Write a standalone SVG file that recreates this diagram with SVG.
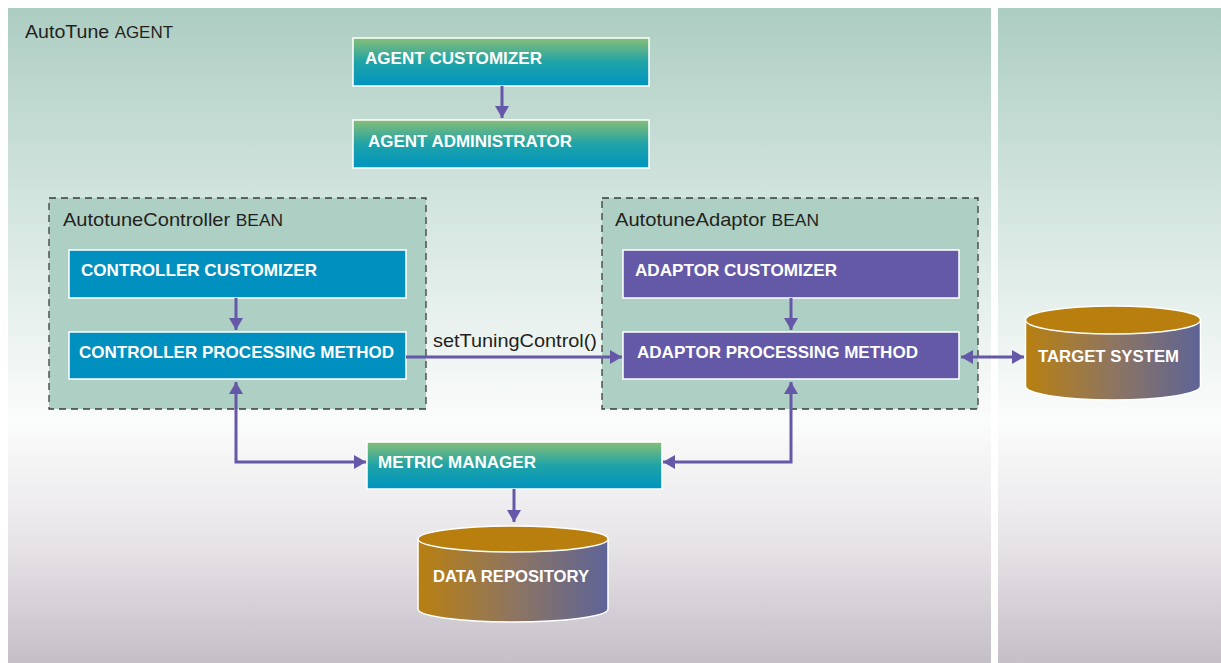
<svg xmlns="http://www.w3.org/2000/svg" width="1221" height="663" viewBox="0 0 1221 663">
  <defs>
    <linearGradient id="bg" gradientUnits="userSpaceOnUse" x1="0" y1="8" x2="0" y2="663">
      <stop offset="0" stop-color="#adcdc2"/>
      <stop offset="0.3" stop-color="#d3e5df"/>
      <stop offset="0.63" stop-color="#fbfcfc"/>
      <stop offset="0.8" stop-color="#eae7ea"/>
      <stop offset="1" stop-color="#c5bfc8"/>
    </linearGradient>
    <linearGradient id="greenBox" x1="0" y1="0" x2="0" y2="1">
      <stop offset="0" stop-color="#87be76"/>
      <stop offset="0.5" stop-color="#1fa3a7"/>
      <stop offset="1" stop-color="#0094c1"/>
    </linearGradient>
    <linearGradient id="cyl" x1="0" y1="0" x2="1" y2="0">
      <stop offset="0" stop-color="#b98010"/>
      <stop offset="0.5" stop-color="#8e7560"/>
      <stop offset="1" stop-color="#5d6497"/>
    </linearGradient>
    <marker id="ah" markerUnits="userSpaceOnUse" markerWidth="13" markerHeight="14" refX="12" refY="7" orient="auto-start-reverse">
      <path d="M0,0 L12,7 L0,14 z" fill="#6558a8"/>
    </marker>
    <style>
      .panel { fill: url(#bg); }
      .bean { fill: #aecfc4; stroke: #3d3d3d; stroke-width: 1.3; stroke-dasharray: 7 5; }
      .gbox { fill: url(#greenBox); stroke: #ffffff; stroke-width: 1.5; }
      .bbox { fill: #0090bf; stroke: #ffffff; stroke-width: 1.5; }
      .pbox { fill: #6459a7; stroke: #ffffff; stroke-width: 1.5; }
      .cylbody { fill: url(#cyl); stroke: #ffffff; stroke-width: 1.5; }
      .cyltop { fill: #b87f0e; stroke: #ffffff; stroke-width: 1.5; }
      .btxt { font-family: "Liberation Sans", Arial, sans-serif; font-size: 16.5px; font-weight: bold; fill: #ffffff; }
      .lbl { font-family: "Liberation Sans", Arial, sans-serif; font-size: 18.5px; fill: #231f20; }
      .sm { font-size: 16px; }
      .conn { fill: none; stroke: #6558a8; stroke-width: 3; }
    </style>
  </defs>

  <rect x="0" y="0" width="1221" height="663" fill="#ffffff"/>
  <rect class="panel" x="8" y="8" width="983" height="655"/>
  <rect class="panel" x="998" y="8" width="223" height="655"/>

  <text class="lbl" x="25" y="38" textLength="148" lengthAdjust="spacingAndGlyphs">AutoTune <tspan class="sm">AGENT</tspan></text>

  <g id="controller-bean">
    <rect class="bean" x="49" y="198" width="377" height="211"/>
    <text class="lbl" x="63" y="226" textLength="220" lengthAdjust="spacingAndGlyphs">AutotuneController <tspan class="sm">BEAN</tspan></text>
  </g>
  <g id="adaptor-bean">
    <rect class="bean" x="602" y="198" width="376" height="211"/>
    <text class="lbl" x="615" y="226" textLength="204" lengthAdjust="spacingAndGlyphs">AutotuneAdaptor <tspan class="sm">BEAN</tspan></text>
  </g>

  <g id="agent-customizer">
    <rect class="gbox" x="353" y="38" width="296" height="48"/>
    <text class="btxt" x="365" y="64" textLength="177" lengthAdjust="spacingAndGlyphs">AGENT CUSTOMIZER</text>
  </g>
  <g id="agent-administrator">
    <rect class="gbox" x="353" y="120" width="296" height="48"/>
    <text class="btxt" x="368" y="147" textLength="204" lengthAdjust="spacingAndGlyphs">AGENT ADMINISTRATOR</text>
  </g>
  <g id="controller-customizer">
    <rect class="bbox" x="69" y="250" width="337" height="48"/>
    <text class="btxt" x="81" y="276" textLength="236" lengthAdjust="spacingAndGlyphs">CONTROLLER CUSTOMIZER</text>
  </g>
  <g id="controller-processing">
    <rect class="bbox" x="69" y="332" width="337" height="47"/>
    <text class="btxt" x="79" y="358" textLength="315" lengthAdjust="spacingAndGlyphs">CONTROLLER PROCESSING METHOD</text>
  </g>
  <g id="adaptor-customizer">
    <rect class="pbox" x="623" y="250" width="336" height="48"/>
    <text class="btxt" x="635" y="276" textLength="202" lengthAdjust="spacingAndGlyphs">ADAPTOR CUSTOMIZER</text>
  </g>
  <g id="adaptor-processing">
    <rect class="pbox" x="623" y="332" width="336" height="47"/>
    <text class="btxt" x="637" y="358" textLength="281" lengthAdjust="spacingAndGlyphs">ADAPTOR PROCESSING METHOD</text>
  </g>
  <g id="metric-manager">
    <rect class="gbox" x="367" y="442" width="295" height="47"/>
    <text class="btxt" x="378" y="468" textLength="158" lengthAdjust="spacingAndGlyphs">METRIC MANAGER</text>
  </g>
  <g id="target-system">
    <path class="cylbody" d="M1025.5,320 L1025.5,386 A87.5,14 0 0 0 1200.5,386 L1200.5,320 Z"/>
    <ellipse class="cyltop" cx="1113" cy="320" rx="87.5" ry="14"/>
    <text class="btxt" x="1038" y="362" textLength="141" lengthAdjust="spacingAndGlyphs">TARGET SYSTEM</text>
  </g>
  <g id="data-repository">
    <path class="cylbody" d="M418,539 L418,609 A95,13 0 0 0 608,609 L608,539 Z"/>
    <ellipse class="cyltop" cx="513" cy="539" rx="95" ry="13"/>
    <text class="btxt" x="433" y="582" textLength="156" lengthAdjust="spacingAndGlyphs">DATA REPOSITORY</text>
  </g>

  <g id="connectors">
    <line class="conn" x1="502" y1="86" x2="502" y2="118" marker-end="url(#ah)"/>
    <line class="conn" x1="236" y1="298" x2="236" y2="330" marker-end="url(#ah)"/>
    <line class="conn" x1="791" y1="298" x2="791" y2="330" marker-end="url(#ah)"/>
    <line class="conn" x1="406" y1="357" x2="622" y2="357" marker-end="url(#ah)"/>
    <line class="conn" x1="961" y1="357" x2="1024" y2="357" marker-start="url(#ah)" marker-end="url(#ah)"/>
    <polyline class="conn" points="236,382 236,462 366,462" marker-start="url(#ah)" marker-end="url(#ah)"/>
    <polyline class="conn" points="791,382 791,462 663,462" marker-start="url(#ah)" marker-end="url(#ah)"/>
    <line class="conn" x1="514" y1="489" x2="514" y2="522" marker-end="url(#ah)"/>
    <text class="lbl" x="433" y="347" textLength="164" lengthAdjust="spacingAndGlyphs">setTuningControl()</text>
  </g>
</svg>
